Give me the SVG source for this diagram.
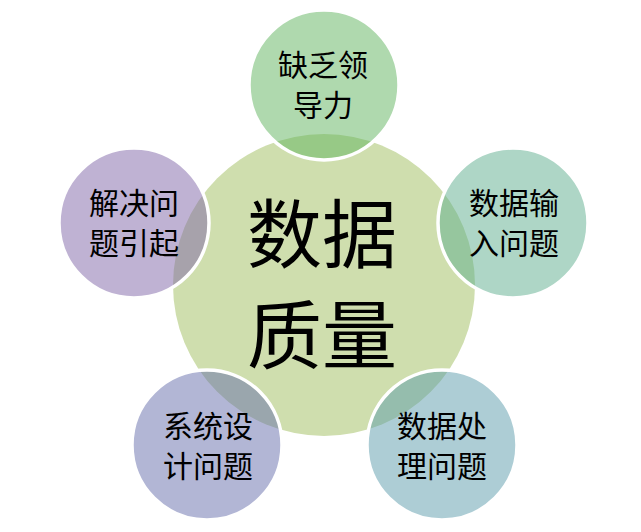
<svg xmlns="http://www.w3.org/2000/svg" width="641" height="532" viewBox="0 0 641 532">
<style>
.sat{stroke:#ffffff;stroke-width:3.5;fill-opacity:0.5}
.lbl{font-family:"Noto Sans CJK SC","Noto Sans CJK JP",sans-serif;font-size:30px;fill:#000000;text-anchor:middle}
.big{font-family:"Noto Sans CJK SC","Noto Sans CJK JP",sans-serif;font-size:75px;fill:#000000;text-anchor:middle}
</style>
<rect width="641" height="532" fill="#ffffff"/>
<g id="center">
<circle cx="324" cy="285" r="151" fill="#cfdeae"/>
<text class="big"><tspan x="322" y="262">数据</tspan><tspan x="322" y="363">质量</tspan></text>
</g>
<g id="connectors"></g>
<g id="top">
<circle class="sat" cx="324" cy="85" r="75" fill="#5fb35d"/>
<text class="lbl"><tspan x="323" y="76">缺乏领</tspan><tspan x="323" y="116">导力</tspan></text>
</g>
<g id="right">
<circle class="sat" cx="513" cy="223" r="75" fill="#5dad8d"/>
<text class="lbl"><tspan x="514" y="214">数据输</tspan><tspan x="514" y="254">入问题</tspan></text>
</g>
<g id="bottom-right">
<circle class="sat" cx="442" cy="445" r="75" fill="#5b9bab"/>
<text class="lbl"><tspan x="442" y="437">数据处</tspan><tspan x="442" y="477">理问题</tspan></text>
</g>
<g id="bottom-left">
<circle class="sat" cx="207" cy="445" r="75" fill="#656dab"/>
<text class="lbl"><tspan x="208" y="437">系统设</tspan><tspan x="208" y="477">计问题</tspan></text>
</g>
<g id="left">
<circle class="sat" cx="134" cy="223" r="75" fill="#7f65a7"/>
<text class="lbl"><tspan x="134" y="214">解决问</tspan><tspan x="134" y="254">题引起</tspan></text>
</g>
</svg>
